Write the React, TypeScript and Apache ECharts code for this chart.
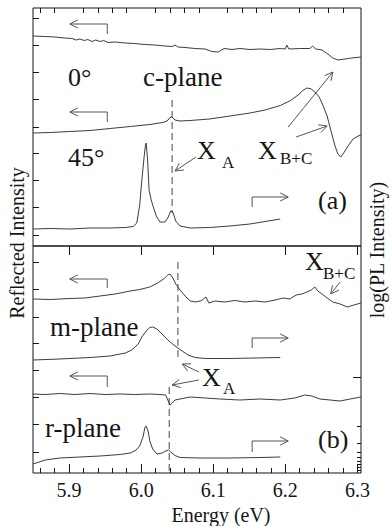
import React, { useEffect, useRef } from "react";
import * as echarts from "echarts";

// ---------- axes ----------
const X_MIN = 5.85;
const X_MAX = 6.305;
const X_MAJOR = [5.9, 6.0, 6.1, 6.2, 6.3];
const X_MINOR = [5.86, 5.88, 5.92, 5.94, 5.96, 5.98, 6.02, 6.04, 6.06, 6.08, 6.12, 6.14, 6.16, 6.18, 6.22, 6.24, 6.26, 6.28];
const YA_MAX = 238;
const YB_MAX = 227;
const YA_TICKS = [11, 39, 66, 93, 119, 147, 174, 201, 228];
const YB_TICKS = [21, 49, 76, 103, 130, 156, 184, 211];
const YB_RIGHT_MAJOR = [96];
const YB_RIGHT_MINOR = [47, 30, 21, 16, 12, 9, 6, 3];

// ---------- panel (a): c-plane ----------
const C_REFL_0DEG: [number, number][] = [
  [5.85, 210], [5.867, 209.5], [5.88, 209], [5.894, 208], [5.904, 207.5], [5.91, 206], [5.915, 207],
  [5.921, 205.5], [5.926, 206.5], [5.932, 204.5], [5.937, 206], [5.943, 204.5], [5.948, 205.5],
  [5.954, 203.5], [5.964, 204], [5.978, 203], [5.991, 202.5], [6.005, 201.5], [6.019, 201],
  [6.033, 200], [6.043, 199.5], [6.047, 201], [6.051, 199], [6.061, 198.5], [6.075, 197.5],
  [6.089, 197], [6.098, 194.5], [6.107, 194], [6.115, 197.5], [6.126, 196.5], [6.137, 197.5],
  [6.151, 196.5], [6.165, 197], [6.179, 196.5], [6.193, 197.5], [6.2, 197], [6.202, 201],
  [6.205, 197], [6.22, 197.5], [6.234, 197.5], [6.238, 200], [6.242, 197], [6.251, 196],
  [6.259, 192], [6.266, 188], [6.273, 186], [6.283, 187], [6.292, 188], [6.305, 189],
];
const C_REFL_45DEG: [number, number][] = [
  [5.85, 113], [5.874, 113.5], [5.901, 114.5], [5.929, 115.5], [5.957, 117.5], [5.985, 119.5],
  [6.012, 121.5], [6.03, 123.5], [6.036, 125], [6.04, 128.5], [6.043, 129], [6.047, 126],
  [6.054, 125], [6.068, 125.5], [6.095, 127], [6.123, 130], [6.151, 133], [6.172, 136],
  [6.193, 140.5], [6.206, 145], [6.218, 151], [6.224, 155.5], [6.23, 158], [6.236, 157],
  [6.241, 154], [6.247, 149], [6.252, 141], [6.258, 130], [6.263, 116], [6.269, 100],
  [6.273, 92], [6.277, 89], [6.281, 93], [6.287, 100], [6.294, 107], [6.301, 110], [6.305, 111],
];
const C_PL: [number, number][] = [
  [5.85, 17], [5.874, 17.5], [5.901, 17], [5.929, 18], [5.957, 18], [5.978, 18.5], [5.989, 19.5],
  [5.994, 23], [5.998, 41], [6.001, 66], [6.004, 88], [6.006, 101], [6.007, 103], [6.009, 86],
  [6.011, 56], [6.014, 46], [6.016, 41], [6.021, 30], [6.026, 24], [6.033, 24], [6.037, 28],
  [6.041, 35], [6.044, 34], [6.048, 25], [6.054, 20], [6.068, 18], [6.095, 18.5], [6.123, 20],
  [6.151, 22], [6.172, 24.5], [6.193, 27],
];

// ---------- panel (b): m-plane and r-plane ----------
const M_REFL: [number, number][] = [
  [5.85, 174], [5.874, 173.5], [5.901, 174.5], [5.922, 175], [5.943, 177], [5.964, 179],
  [5.985, 182], [5.998, 183.5], [6.012, 186], [6.023, 190], [6.032, 194.5], [6.037, 198],
  [6.04, 199], [6.044, 195], [6.048, 189], [6.054, 183], [6.061, 177], [6.068, 172], [6.076, 171],
  [6.084, 172.5], [6.09, 176], [6.094, 170], [6.102, 172], [6.116, 171], [6.13, 172.5],
  [6.144, 171], [6.158, 172], [6.172, 171], [6.186, 173], [6.197, 175], [6.206, 174],
  [6.215, 178], [6.223, 179], [6.23, 181], [6.236, 183], [6.241, 186], [6.245, 182],
  [6.251, 179], [6.258, 175], [6.266, 171], [6.276, 169], [6.286, 166], [6.295, 168], [6.305, 170],
];
const M_PL: [number, number][] = [
  [5.85, 113], [5.887, 114], [5.929, 115.5], [5.957, 117], [5.978, 120], [5.987, 123],
  [5.996, 129], [6.001, 136], [6.007, 142], [6.012, 145.5], [6.016, 146], [6.022, 144],
  [6.029, 139], [6.037, 133], [6.047, 127], [6.057, 122], [6.065, 118], [6.075, 115.5],
  [6.089, 114.5], [6.123, 114.5], [6.158, 115], [6.193, 115.5],
];
const R_REFL: [number, number][] = [
  [5.85, 79], [5.867, 78.5], [5.887, 79.5], [5.908, 78.5], [5.929, 79.5], [5.95, 78.5],
  [5.971, 79], [5.991, 78.5], [6.012, 79], [6.026, 78.5], [6.034, 78], [6.037, 73], [6.04, 68],
  [6.043, 70], [6.047, 73], [6.057, 74.5], [6.068, 76], [6.089, 75], [6.109, 74], [6.137, 73],
  [6.165, 74], [6.193, 73], [6.213, 75], [6.227, 78], [6.237, 77], [6.248, 74], [6.262, 73],
  [6.276, 72], [6.29, 74], [6.305, 76],
];
const R_PL: [number, number][] = [
  [5.85, 9], [5.867, 13], [5.887, 15], [5.915, 16], [5.943, 17], [5.971, 18.5], [5.985, 20],
  [5.993, 23], [5.998, 27], [6.003, 37], [6.005, 45], [6.007, 47], [6.01, 41], [6.012, 32],
  [6.016, 24], [6.022, 19], [6.029, 20], [6.034, 22], [6.038, 23], [6.041, 21], [6.047, 17.5],
  [6.054, 15.5], [6.082, 15], [6.123, 15], [6.165, 15.5], [6.193, 16],
];

// ---------- annotations (data coordinates) ----------
// dashed markers: [panel, energy, v1, v2]
const DASHES: [number, number, number, number][] = [
  [0, 6.043, 146, 33],
  [1, 6.051, 211, 113],
  [1, 6.039, 86, 0],
];
// hooked arrows: [panel, cornerE, baseV, levelV, headE]
const HOOKS: [number, number, number, number, number][] = [
  [0, 5.953, 212, 222, 5.901],
  [0, 5.953, 124, 134, 5.901],
  [0, 6.154, 39, 49, 6.204],
  [1, 5.953, 185, 194, 5.901],
  [1, 5.953, 86, 97, 5.901],
  [1, 6.154, 125, 135, 6.204],
  [1, 6.154, 21, 32, 6.204],
];
// pointers: [panel, tailE, tailV, headE, headV]
const POINTERS: [number, number, number, number, number][] = [
  [0, 6.076, 89, 6.047, 75],
  [0, 6.204, 119, 6.266, 174],
  [0, 6.215, 109, 6.258, 120],
  [1, 6.08, 101, 6.057, 109],
  [1, 6.08, 93, 6.043, 88],
  [1, 6.276, 191, 6.263, 179],
];

const SERIF = "serif";
const TRACE = "#3c3c3c";
const ANN = "#555555";
const INK = "#151515";

function App() {
  const ref = useRef<HTMLDivElement>(null);

  useEffect(() => {
    if (!ref.current) return;
    const chart = echarts.init(ref.current, null, { renderer: "svg" });

    const xBase = (gridIndex: number, position: string, vals: number[], len: number, labels: boolean) => ({
      type: "value",
      gridIndex,
      min: X_MIN,
      max: X_MAX,
      position,
      axisLine: { show: false },
      splitLine: { show: false },
      axisTick: { show: true, inside: true, length: len, customValues: vals, lineStyle: { color: INK, width: 1 } },
      axisLabel: labels
        ? {
            show: true,
            customValues: vals,
            formatter: (v: number) => v.toFixed(1),
            fontFamily: SERIF,
            fontSize: 20,
            color: INK,
            margin: 7,
          }
        : { show: false },
    });
    const yBase = (gridIndex: number, position: string, max: number, vals: number[], len: number) => ({
      type: "value",
      gridIndex,
      min: 0,
      max,
      position,
      axisLine: { show: false },
      splitLine: { show: false },
      axisTick: { show: true, inside: true, length: len, customValues: vals, lineStyle: { color: INK, width: 1 } },
      axisLabel: { show: false },
    });

    const line = (data: [number, number][], panel: number) => ({
      type: "line",
      data,
      xAxisIndex: panel === 0 ? 0 : 2,
      yAxisIndex: panel === 0 ? 0 : 1,
      showSymbol: false,
      symbol: "none",
      silent: true,
      lineStyle: { color: TRACE, width: 1 },
    });

    chart.setOption({
      animation: false,
      backgroundColor: "#ffffff",
      textStyle: { fontFamily: SERIF },
      grid: [
        { left: 33, top: 8, width: 328, height: 238, show: true, borderColor: INK, borderWidth: 1, backgroundColor: "transparent" },
        { left: 33, top: 246, width: 328, height: 227, show: true, borderColor: INK, borderWidth: 1, backgroundColor: "transparent" },
      ],
      xAxis: [
        xBase(0, "top", X_MAJOR, 9, false),
        xBase(0, "top", X_MINOR, 5, false),
        xBase(1, "bottom", X_MAJOR, 9, true),
        xBase(1, "bottom", X_MINOR, 5, false),
      ],
      yAxis: [
        yBase(0, "left", YA_MAX, YA_TICKS, 6),
        yBase(1, "left", YB_MAX, YB_TICKS, 6),
        yBase(1, "right", YB_MAX, YB_RIGHT_MAJOR, 8),
        yBase(1, "right", YB_MAX, YB_RIGHT_MINOR, 4),
      ],
      series: [
        line(C_REFL_0DEG, 0),
        line(C_REFL_45DEG, 0),
        line(C_PL, 0),
        line(M_REFL, 1),
        line(M_PL, 1),
        line(R_REFL, 1),
        line(R_PL, 1),
      ],
    });

    const px = (panel: number, e: number, v: number): number[] =>
      chart.convertToPixel({ xAxisIndex: panel === 0 ? 0 : 2, yAxisIndex: panel === 0 ? 0 : 1 } as any, [e, v]) as number[];

    const head = (tail: number[], tip: number[]) => {
      const dx = tip[0] - tail[0];
      const dy = tip[1] - tail[1];
      const d = Math.hypot(dx, dy) || 1;
      const ux = dx / d;
      const uy = dy / d;
      const L = 9;
      const a = (27 * Math.PI) / 180;
      const r = (ang: number) => [
        tip[0] - L * (ux * Math.cos(ang) - uy * Math.sin(ang)),
        tip[1] - L * (ux * Math.sin(ang) + uy * Math.cos(ang)),
      ];
      return { type: "polyline", silent: true, shape: { points: [r(a), tip, r(-a)] }, style: { stroke: ANN, lineWidth: 1, fill: null } };
    };

    const elements: any[] = [];
    DASHES.forEach(([p, e, v1, v2]) => {
      const a = px(p, e, v1);
      const b = px(p, e, v2);
      elements.push({ type: "line", silent: true, shape: { x1: a[0], y1: a[1], x2: b[0], y2: b[1] }, style: { stroke: "#666", lineWidth: 1.2, lineDash: [7, 4] } });
    });
    HOOKS.forEach(([p, ce, bv, lv, he]) => {
      const b = px(p, ce, bv);
      const c = px(p, ce, lv);
      const h = px(p, he, lv);
      elements.push({ type: "polyline", silent: true, shape: { points: [b, c, h] }, style: { stroke: ANN, lineWidth: 1, fill: null } });
      elements.push(head(c, h));
    });
    POINTERS.forEach(([p, te, tv, he, hv]) => {
      const t = px(p, te, tv);
      const h = px(p, he, hv);
      elements.push({ type: "line", silent: true, shape: { x1: t[0], y1: t[1], x2: h[0], y2: h[1] }, style: { stroke: ANN, lineWidth: 1 } });
      elements.push(head(t, h));
    });

    const txt = (text: string, x: number, y: number, size: number, center = false, rotation = 0) => ({
      type: "text",
      silent: true,
      x,
      y,
      rotation,
      style: {
        text,
        fill: INK,
        fontFamily: SERIF,
        fontSize: size,
        align: center ? "center" : "left",
        verticalAlign: "middle",
      },
    });

    elements.push(txt("0°", 68, 77, 26));
    elements.push(txt("c-plane", 143, 77, 27));
    elements.push(txt("45°", 68, 157, 26));
    elements.push(txt("X", 197, 150, 26));
    elements.push(txt("A", 222, 162, 17));
    elements.push(txt("X", 258, 150, 26));
    elements.push(txt("B+C", 280, 158, 17));
    elements.push(txt("(a)", 318, 200, 26));
    elements.push(txt("X", 305, 261, 26));
    elements.push(txt("B+C", 323, 273, 17));
    elements.push(txt("m-plane", 50, 327, 27));
    elements.push(txt("X", 202, 377, 26));
    elements.push(txt("A", 223, 388, 17));
    elements.push(txt("r-plane", 45, 428, 27));
    elements.push(txt("(b)", 318, 439, 26));
    elements.push(txt("Energy (eV)", 221, 515, 20, true));
    elements.push(txt("Reflected Intensity", 17, 243, 20, true, Math.PI / 2));
    elements.push(txt("log(PL Intensity)", 377, 250, 20, true, Math.PI / 2));

    chart.setOption({ graphic: { elements } });

    return () => chart.dispose();
  }, []);

  return (
    <div
      ref={ref}
      style={{ position: "fixed", left: 0, top: 0, width: 391, height: 526, background: "#fff" }}
    />
  );
}

export default App;
